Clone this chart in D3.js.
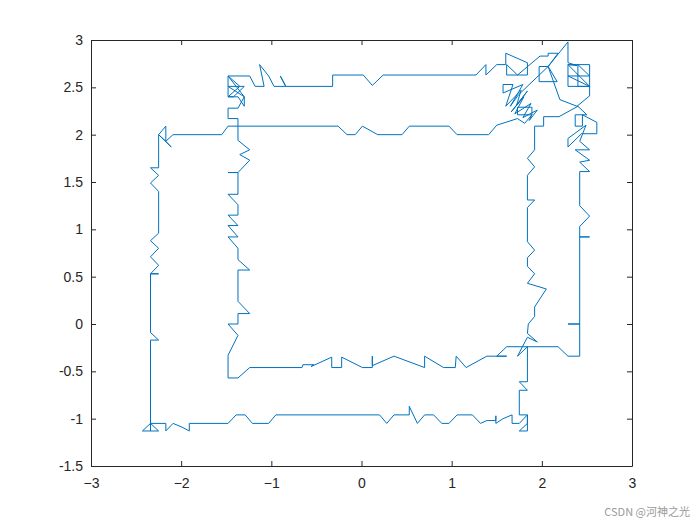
<!DOCTYPE html>
<html>
<head>
<meta charset="utf-8">
<script src="https://cdn.jsdelivr.net/npm/d3@7"></script>
<style>
  html, body { margin: 0; padding: 0; background: #ffffff; }
  svg { display: block; }
  .tick text { font-family: "Liberation Sans", Arial, sans-serif; font-size: 14px; fill: #262626; }
</style>
</head>
<body>
<svg id="chart" width="700" height="525"></svg>
<script>
// Tick values
const xTicks = [-3, -2, -1, 0, 1, 2, 3];
const yTicks = [-1.5, -1, -0.5, 0, 0.5, 1, 1.5, 2, 2.5, 3];

// Trajectory (x values)
const pathX = [
  1.60, 1.84, 1.84, 1.73, 1.61, 1.61, 1.73, 1.98, 2.07, 2.07, 2.18, 2.07, 1.97, 1.97, 2.17, 2.07,
  2.29, 2.29, 2.39, 2.29, 2.53, 2.53, 2.29, 2.29, 2.53, 2.29, 2.53, 2.40, 2.40, 2.53, 2.53, 2.39,
  2.20, 2.07, 1.74, 1.65, 1.79, 1.57, 1.57, 1.68, 1.60, 1.77, 1.72,
  1.84, 1.66, 1.80, 1.70, 1.88, 1.79, 1.95, 1.86,
  1.89, 1.89, 1.73, 1.73, 1.89,
  1.81, 1.73,
  1.50, 1.41, 1.06, 0.97, 0.53, 0.45, 0.18, 0.01, -0.07, -0.16, -0.26, -1.48, -1.55, -2.09,
  -2.17, -2.17, -2.25, -2.17, -2.11, -2.25,
  -2.25, -2.34, -2.25, -2.34, -2.25, -2.25, -2.34, -2.25, -2.34, -2.25, -2.34, -2.25, -2.34,
  -2.34, -2.25, -2.34, -2.34,
  -2.43, -2.25, -2.34, -2.34, -2.34,
  -2.17, -2.17, -2.09, -1.99, -1.91, -1.91, -1.48, -1.39, -1.29, -1.21, -1.03, -0.95, 0.20, 0.28,
  0.36, 0.53, 0.53, 0.62, 0.70, 0.80, 0.89, 0.97, 1.06, 1.23, 1.32, 1.39, 1.49, 1.49, 1.49, 1.57,
  1.67, 1.67, 1.75, 1.84, 1.84, 1.75, 1.84, 1.84, 1.75,
  1.75, 1.84, 1.75, 1.84, 1.84, 1.73, 1.84, 1.95, 1.84, 1.85, 1.92, 1.92, 2.05, 1.84, 1.92, 1.84,
  1.84, 1.92, 1.84, 1.84, 1.92, 1.84, 1.84, 1.92, 1.84, 1.92, 1.92, 2.02, 2.02, 2.19, 2.40,
  2.50, 2.37, 2.37, 2.45, 2.45, 2.61, 2.61, 2.44, 2.29, 2.29, 2.49, 2.42, 2.53, 2.37, 2.53, 2.42,
  2.53, 2.42, 2.42, 2.53, 2.42, 2.42, 2.53, 2.42, 2.42, 2.29, 2.42, 2.42,
  2.29, 2.18, 1.61, 1.50, 1.61, 1.39, 1.16, 1.05, 1.04, 0.91, 0.70, 0.70, 0.36, 0.12, 0.12, 0.12,
  0.01, -0.22, -0.22, -0.33, -0.33, -0.56, -0.53, -0.65, -0.66, -1.24, -1.37, -1.48,
  -1.48, -1.37, -1.48, -1.37, -1.37, -1.24, -1.37, -1.37, -1.24, -1.37, -1.37, -1.48, -1.37, -1.48,
  -1.37, -1.48, -1.37, -1.37, -1.48, -1.37, -1.37, -1.48, -1.37, -1.24, -1.35, -1.24, -1.37, -1.37,
  -1.48, -1.48, -1.37,
  -1.30, -1.48, -1.30, -1.42, -1.48, -1.35, -1.48, -1.30, -1.30, -1.37, -1.48, -1.48,
  -1.24, -1.18, -1.08, -1.13, -1.03, -0.97, -0.84, -0.90, -0.84, -0.32, -0.32, 0.02, 0.12, 0.24,
  1.27, 1.38, 1.38, 1.50, 1.60, 1.60
];

// Trajectory (y values)
const pathY = [
  2.86, 2.76, 2.63, 2.63, 2.74, 2.63, 2.63, 2.83, 2.83, 2.86, 2.86, 2.72, 2.72, 2.56, 2.56, 2.72,
  2.98, 2.76, 2.73, 2.74, 2.74, 2.51, 2.51, 2.74, 2.51, 2.62, 2.62, 2.74, 2.51, 2.51, 2.41, 2.30,
  2.37, 2.72, 2.42, 2.30, 2.53, 2.44, 2.53, 2.53, 2.30, 2.47, 2.31,
  2.46, 2.24, 2.40, 2.22, 2.33, 2.18, 2.26, 2.15,
  2.21, 2.29, 2.29, 2.21, 2.21,
  2.12, 2.17,
  2.10, 2.00, 2.00, 2.09, 2.09, 2.00, 2.00, 2.09, 2.00, 2.00, 2.09, 2.09, 2.00, 2.00,
  1.93, 2.09, 2.00, 1.93, 1.87, 2.00,
  1.65, 1.65, 1.57, 1.49, 1.40, 0.96, 0.88, 0.80, 0.71, 0.62, 0.53, 0.53, 0.53,
  -0.09, -0.17, -0.17, -1.05,
  -1.13, -1.13, -1.05, -1.13, -1.05,
  -1.05, -1.13, -1.05, -1.09, -1.13, -1.05, -1.05, -0.96, -0.96, -1.05, -1.05, -0.96, -0.96, -1.05,
  -0.96, -0.96, -0.87, -1.05, -0.96, -0.96, -1.05, -1.05, -0.96, -0.96, -1.05, -1.02, -1.02, -0.97, -1.05, -1.00,
  -0.96, -1.05, -1.05, -0.96, -1.13, -1.13, -1.05, -0.96, -0.96,
  -0.70, -0.70, -0.61, -0.61, -0.24, -0.34, -0.14, -0.19, -0.10, 0.00, 0.08, 0.18, 0.37, 0.43, 0.53, 0.61,
  0.70, 0.78, 0.87, 1.23, 1.31, 1.31, 1.57, 1.66, 1.75, 1.84, 2.09, 2.09, 2.19, 2.19, 2.30,
  2.21, 2.21, 2.09, 2.09, 2.21, 2.13, 2.01, 2.01, 1.87, 1.96, 2.10, 1.93, 1.84, 1.84, 1.73, 1.71,
  1.61, 1.61, 1.25, 1.14, 1.03, 0.92, 0.92, 0.92, 0.00, 0.00, 0.00, -0.34,
  -0.34, -0.24, -0.24, -0.34, -0.34, -0.34, -0.46, -0.34, -0.46, -0.46, -0.34, -0.46, -0.34, -0.44, -0.34, -0.46,
  -0.46, -0.35, -0.46, -0.46, -0.35, -0.45, -0.43, -0.43, -0.46, -0.46, -0.57, -0.57,
  -0.33, -0.12, 0.00, 0.00, 0.11, 0.11, 0.24, 0.57, 0.57, 0.68, 0.80, 0.92, 0.92, 1.04,
  1.04, 1.15, 1.15, 1.26, 1.37, 1.37, 1.60, 1.60, 1.60, 1.73, 1.79, 1.84, 1.94, 2.17,
  2.17, 2.28, 2.28,
  2.40, 2.51, 2.51, 2.40, 2.40, 2.51, 2.62, 2.40, 2.30, 2.40, 2.40, 2.62,
  2.62, 2.51, 2.51, 2.74, 2.62, 2.51, 2.51, 2.62, 2.51, 2.51, 2.63, 2.63, 2.52, 2.63,
  2.63, 2.74, 2.63, 2.74, 2.74, 2.86
];

const margin = { left: 91, right: 68, top: 40, bottom: 59 };
const W = 700, H = 525;
const svg = d3.select("#chart");

const x = d3.scaleLinear().domain([-3, 3]).range([margin.left, W - margin.right]);
const y = d3.scaleLinear().domain([-1.5, 3]).range([H - margin.bottom, margin.top]);

// axes (MATLAB style: ticks pointing inward, box on)
const axisColor = "#262626";
const gB = svg.append("g").attr("transform", `translate(0,${y(-1.5)})`)
  .call(d3.axisBottom(x).tickValues(xTicks).tickSizeInner(-5).tickSizeOuter(0).tickPadding(12)
    .tickFormat(d3.format("")));
const gL = svg.append("g").attr("transform", `translate(${x(-3)},0)`)
  .call(d3.axisLeft(y).tickValues(yTicks).tickSizeInner(-5).tickSizeOuter(0).tickPadding(8)
    .tickFormat(d => String(d)));
const gT = svg.append("g").attr("transform", `translate(0,${y(3)})`)
  .call(d3.axisTop(x).tickValues(xTicks).tickSizeInner(-5).tickSizeOuter(0).tickFormat(""));
const gR = svg.append("g").attr("transform", `translate(${x(3)},0)`)
  .call(d3.axisRight(y).tickValues(yTicks).tickSizeInner(-5).tickSizeOuter(0).tickFormat(""));

[gB, gL, gT, gR].forEach(g => {
  g.select(".domain").attr("stroke", axisColor).attr("stroke-width", 1);
  g.selectAll(".tick line").attr("stroke", axisColor).attr("stroke-width", 1);
  g.selectAll(".tick text").attr("fill", axisColor);
});
gB.selectAll(".tick text").attr("dy", "0.71em");

// trajectory
const pts = pathX.map((v, i) => [v, pathY[i]]);
const line = d3.line().x(d => x(d[0])).y(d => y(d[1]));
svg.append("path")
  .datum(pts)
  .attr("d", line)
  .attr("fill", "none")
  .attr("stroke", "#0072BD")
  .attr("stroke-width", 1)
  .attr("stroke-linejoin", "miter");

// watermark
svg.append("text")
  .attr("x", 690).attr("y", 516)
  .attr("text-anchor", "end")
  .attr("font-family", "'Noto Sans CJK SC', 'Noto Sans', sans-serif")
  .attr("font-size", 11)
  .attr("fill", "#9a9a9a")
  .text("CSDN @河神之光");
</script>
</body>
</html>
